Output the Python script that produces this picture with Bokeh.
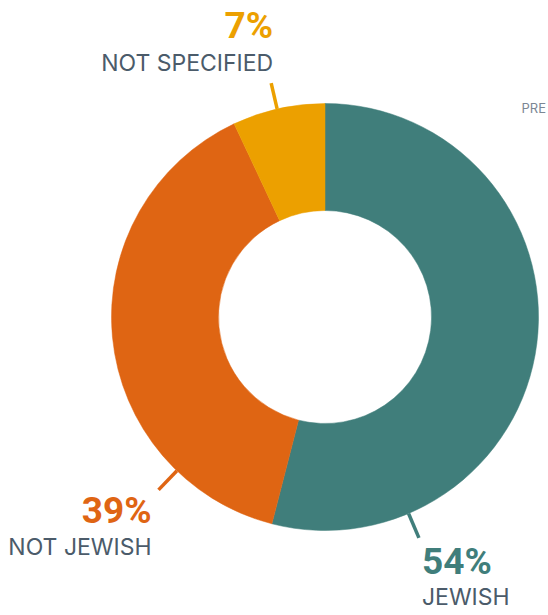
import math
from bokeh.plotting import figure
from bokeh.models import Range1d, ColumnDataSource
from bokeh.core.properties import value
from bokeh.embed import file_html
from bokeh.resources import INLINE

# ---- data ----
categories = ["JEWISH", "NOT JEWISH", "NOT SPECIFIED"]
shares = [54, 39, 7]
pct_labels = ["54%", "39%", "7%"]

# ---- style / layout ----
colors = ["#407e7b", "#df6513", "#eca000"]
text_gray = "#4b5b6a"
FONT = "Inter"
PCT_FONT = "Roboto"
W, H = 548, 615
CX, CY = 324.5, H - 316.5
R_OUT, R_IN = 213.5, 106.5
R_LINE_END = 240
# positions of leader lines (fraction of circle, clockwise from top)
leader_pos = [0.436, 0.622, 0.964]
# label offsets from leader end: (dx, pct baseline dy, name baseline dy, align)
label_off = [(3, -39, -68, "left"), (-7, -36, -66, "right"), (2, 43, 11, "right")]
PCT_SHIFT, NAME_SHIFT = 15, 9   # renderer baseline compensation

p = figure(width=W, height=H, x_range=Range1d(0, W), y_range=Range1d(0, H),
           output_backend="svg", toolbar_location=None, min_border=0,
           outline_line_color=None, background_fill_color="white")
p.axis.visible = False
p.grid.visible = False

total = sum(shares)
starts, ends = [], []
cum = 0
for s in shares:
    a0 = math.pi / 2 - 2 * math.pi * cum / total
    cum += s
    a1 = math.pi / 2 - 2 * math.pi * cum / total
    starts.append(a1)
    ends.append(a0)

src = ColumnDataSource(dict(start=starts, end=ends, color=colors))
p.annular_wedge(x=CX, y=CY, inner_radius=R_IN, outer_radius=R_OUT,
                start_angle="start", end_angle="end", fill_color="color",
                line_color="color", line_width=0.5, source=src)

for i, cat in enumerate(categories):
    ang = 2 * math.pi * leader_pos[i]
    sx, sy = math.sin(ang), math.cos(ang)
    x0, y0 = CX + R_OUT * sx, CY + R_OUT * sy
    x1, y1 = CX + R_LINE_END * sx, CY + R_LINE_END * sy
    p.line([x0, x1], [y0, y1], line_color=colors[i], line_width=3.5)
    dx, dpy, dny, align = label_off[i]
    p.text([x1 + dx], [y1 + dpy + PCT_SHIFT], text=[pct_labels[i]], text_font=value(PCT_FONT),
           text_font_style="bold", text_font_size="37px", text_color=colors[i],
           text_align=align, text_baseline="alphabetic")
    p.text([x1 + dx], [y1 + dny + NAME_SHIFT], text=[cat], text_font=value(FONT),
           text_font_size="23px", text_color=text_gray,
           text_align=align, text_baseline="alphabetic")

p.text([521], [H - 112 + 5], text=["PRE"], text_font=value(FONT),
       text_font_size="13px", text_color="#7b8794", text_align="left",
       text_baseline="alphabetic")

open("out.html", "w").write(file_html(p, INLINE))
